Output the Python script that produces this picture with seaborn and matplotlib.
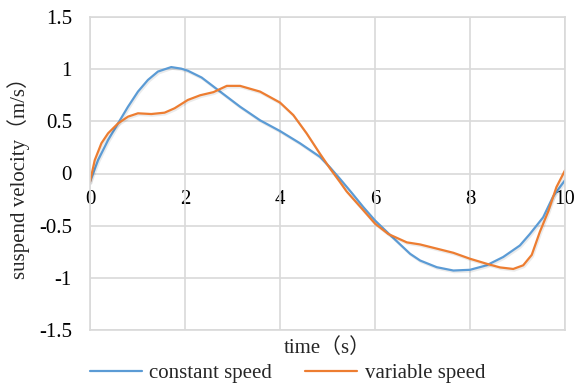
import matplotlib
matplotlib.use("Agg")
import matplotlib.pyplot as plt
import matplotlib.patheffects as pe
import seaborn as sns
import pandas as pd

# ---- data ----
t_const = [0, 0.17, 0.38, 0.59, 0.8, 1.01, 1.22, 1.43, 1.71, 1.92, 2.06, 2.35, 2.74,
           3.16, 3.58, 4.0, 4.42, 4.84, 5.05, 5.26, 5.5, 5.75, 6.0, 6.32, 6.74, 6.95,
           7.3, 7.65, 8.0, 8.35, 8.7, 9.05, 9.26, 9.54, 9.75, 10]
v_const = [-0.08, 0.128, 0.32, 0.48, 0.64, 0.785, 0.897, 0.977, 1.02, 1.005, 0.985,
           0.92, 0.785, 0.64, 0.51, 0.407, 0.29, 0.16, 0.06, -0.05, -0.18, -0.32,
           -0.45, -0.59, -0.77, -0.834, -0.898, -0.93, -0.923, -0.88, -0.80, -0.69,
           -0.58, -0.42, -0.22, -0.064]

t_var = [0, 0.1, 0.24, 0.38, 0.59, 0.8, 1.01, 1.29, 1.57, 1.78, 2.06, 2.32, 2.6, 2.88,
         3.16, 3.58, 4.0, 4.28, 4.56, 4.84, 5.05, 5.26, 5.4, 5.75, 6.0, 6.28, 6.67,
         6.95, 7.3, 7.65, 8.0, 8.35, 8.63, 8.91, 9.12, 9.3, 9.47, 9.65, 9.82, 10]
v_var = [-0.08, 0.128, 0.29, 0.385, 0.48, 0.545, 0.577, 0.57, 0.583, 0.625, 0.705,
         0.75, 0.78, 0.84, 0.84, 0.785, 0.68, 0.56, 0.385, 0.19, 0.05, -0.08, -0.17,
         -0.35, -0.48, -0.58, -0.66, -0.68, -0.72, -0.76, -0.817, -0.865, -0.90,
         -0.915, -0.88, -0.78, -0.56, -0.36, -0.13, 0.03]

series_names = ["constant speed", "variable speed"]
colors = ["#5B9BD5", "#ED7D31"]
x_ticks = [0, 2, 4, 6, 8, 10]
x_ticklabels = ["0", "2", "4", "6", "8", "10"]
y_ticks = [-1.5, -1, -0.5, 0, 0.5, 1, 1.5]
y_ticklabels = ["-1.5", "-1", "-0.5", "0", "0.5", "1", "1.5"]
x_label = "time（s）"
y_label = "suspend velocity（m/s）"

df = pd.concat([
    pd.DataFrame({"time": t_const, "v": v_const, "series": series_names[0]}),
    pd.DataFrame({"time": t_var, "v": v_var, "series": series_names[1]}),
], ignore_index=True)

sns.set_theme(style="white")
plt.rcParams["font.family"] = ["Liberation Serif", "Noto Sans CJK SC"]
plt.rcParams["axes.unicode_minus"] = False
FS = 15

fig = plt.figure(figsize=(5.75, 3.88), dpi=100)
ax = fig.add_axes([90 / 575, 58 / 388, 475 / 575, 313 / 388])

sns.lineplot(data=df, x="time", y="v", hue="series", palette=colors,
             hue_order=series_names, sort=False, estimator=None, lw=1.6, ax=ax,
             legend=False)
for ln in ax.lines:
    ln.set_solid_joinstyle("round")
    ln.set_path_effects([pe.SimpleLineShadow(offset=(0.8, -1.2), shadow_color="black",
                                             alpha=0.08), pe.Normal()])

ax.set_xlim(0, 10)
ax.set_ylim(-1.5, 1.5)
ax.set_yticks(y_ticks, y_ticklabels)
ax.set_xticks(x_ticks)
ax.grid(True, color="#D9D9D9", lw=1.2)
ax.set_axisbelow(True)
for s in ax.spines.values():
    s.set_color("#D9D9D9")
    s.set_linewidth(1.2)
ax.tick_params(axis="x", labelbottom=False, length=0)
ax.tick_params(axis="y", length=0, pad=13, labelsize=FS, labelcolor="black")

secax = ax.secondary_xaxis(0.5)
secax.set_alignment("bottom")
secax.set_xticks(x_ticks, x_ticklabels)
secax.tick_params(length=0, pad=12, labelsize=FS, labelcolor="black",
                  labelbottom=True, labeltop=False)
for s in secax.spines.values():
    s.set_visible(False)

ax.set_xlabel("")
ax.set_ylabel("")
fig.text(327 / 575, 1 - 348 / 388, x_label, ha="center", va="center", fontsize=FS)
fig.text(19 / 575, 1 - 173 / 388, y_label, ha="center", va="center", rotation=90,
         fontsize=FS)

handles = [plt.Line2D([], [], color=c, lw=1.6) for c in colors]
fig.legend(handles, series_names, loc="center", bbox_to_anchor=(0.5, 15 / 388),
           ncol=2, frameon=False, fontsize=FS, handlelength=2.5, handletextpad=0.35,
           columnspacing=1.6, borderpad=0, borderaxespad=0)

fig.savefig("out.png", dpi=100)
